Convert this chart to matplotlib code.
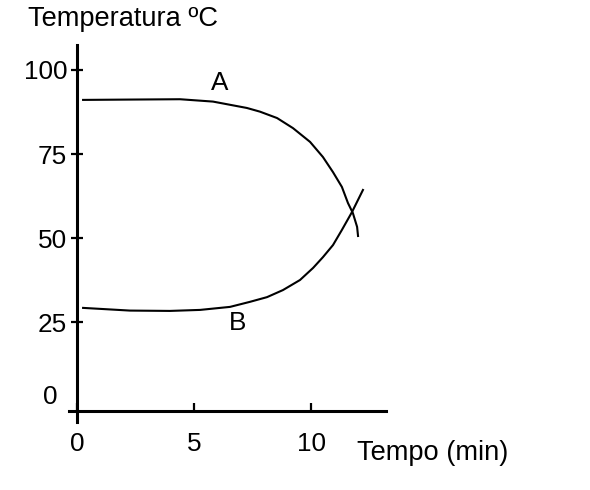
import matplotlib.pyplot as plt

plt.rcParams["font.family"] = ["Liberation Sans", "DejaVu Sans"]

# curve A (cooling) and curve B (heating)
time_a = [0.26, 2.26, 4.40, 5.81, 7.26, 7.82, 8.55, 9.23, 9.96, 10.51, 10.94, 11.32, 11.58, 11.79, 11.97, 12.01]
temp_a = [91.1, 91.2, 91.3, 90.6, 88.7, 87.6, 85.7, 82.7, 78.6, 74.1, 69.6, 65.2, 60.4, 57.4, 53.3, 50.6]
time_b = [0.26, 2.26, 3.97, 5.26, 6.54, 7.39, 8.12, 8.80, 9.53, 10.09, 10.51, 10.94, 11.32, 11.75, 12.22]
temp_b = [29.2, 28.4, 28.3, 28.6, 29.5, 31.0, 32.4, 34.5, 37.5, 41.1, 44.3, 47.9, 52.4, 57.7, 64.3]

x_ticks = [0, 5, 10]
y_ticks = [25, 50, 75, 100]

W, H = 590, 490
fig = plt.figure(figsize=(W / 100, H / 100), dpi=100)
ax = fig.add_axes([69 / W, 1 - 422 / H, (386 - 69) / W, (422 - 45) / H])

ax.plot(time_a, temp_a, color="black", lw=1.5, solid_joinstyle="round")
ax.plot(time_b, temp_b, color="black", lw=1.5, solid_joinstyle="round")

ax.set_xlim(-0.342, 13.205)
ax.set_ylim(-4.76, 107.44)

for side in ("top", "right"):
    ax.spines[side].set_visible(False)
ax.spines["left"].set_position(("data", 0))
ax.spines["bottom"].set_position(("data", -1.49))
for side in ("left", "bottom"):
    ax.spines[side].set_linewidth(2.2)

ax.set_xticks(x_ticks)
ax.set_xticklabels([str(t) for t in x_ticks])
ax.set_yticks(y_ticks)
ax.set_yticklabels([str(t) for t in y_ticks])
ax.tick_params(axis="x", direction="in", length=6, width=1.6, pad=15, labelsize=18.8)
ax.tick_params(axis="y", direction="inout", length=8, width=1.6, pad=3, labelsize=18.8)

ax.text(-0.85, 2.7, "0", ha="right", va="center", fontsize=18.8, clip_on=False)
ax.text(6.11, 96.1, "A", ha="center", va="center", fontsize=18.8)
ax.text(6.88, 24.7, "B", ha="center", va="center", fontsize=18.8)

fig.text(28 / W, 1 - 19 / H, "Temperatura ºC", ha="left", va="center", fontsize=19.6)
fig.text(357 / W, 1 - 453 / H, "Tempo (min)", ha="left", va="center", fontsize=19.6)

fig.savefig("out.png", dpi=100)
